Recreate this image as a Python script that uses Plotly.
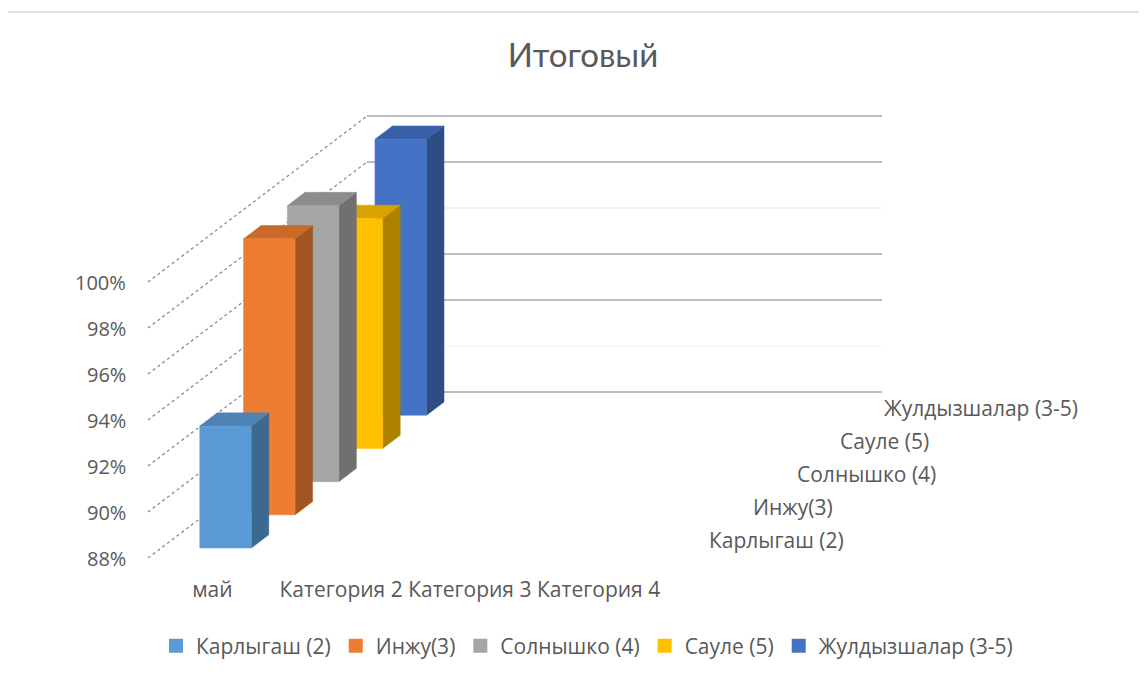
import plotly.graph_objects as go

# ---- data ----
categories = ["май", "Категория 2", "Категория 3", "Категория 4"]
series_names = ["Карлыгаш (2)", "Инжу(3)", "Солнышко (4)", "Сауле (5)", "Жулдызшалар (3-5)"]
karlygash = [93.3, None, None, None]
inzhu = [100, None, None, None]
solnyshko = [100, None, None, None]
saule = [98, None, None, None]
zhuldyzshalar = [100, None, None, None]
series_values = [karlygash, inzhu, solnyshko, saule, zhuldyzshalar]
colors = ["#5B9BD5", "#ED7D31", "#A5A5A5", "#FFC000", "#4472C4"]
y_ticks = [88, 90, 92, 94, 96, 98, 100]

# ---- geometry (oblique 3D projection in axis units) ----
OFF = 8  # page offset of the figure
W, H = 1147, 679
FLOOR_L = 148                          # page x of front-left floor corner
PL, PR, PT, PB = 20, 1140, 108, 558    # plot-area edges on the page
L = PL - OFF
T = PT - OFF
R = W - (PR - OFF)
B = H - (PB - OFF)
PX_CAT = 128.75
PX_PCT = 23.0
DX = 219 / PX_CAT      # depth shift along x (category units) for full depth
DY = 166 / PX_PCT      # depth shift along y (percent units) for full depth
YMIN = 88
plot_w = W - L - R
plot_h = H - T - B
x_left = -0.5 - (FLOOR_L - PL) / PX_CAT
xr = [x_left, x_left + plot_w / PX_CAT]
yr = [YMIN, YMIN + plot_h / PX_PCT]
nser = len(series_names)
slot = 1.0 / nser
bar_depth = slot / 2.5
half_w = 0.2


def proj(x, v, d):
    return x + d * DX, v + d * DY


def shade(hexc, f):
    h = hexc.lstrip("#")
    r, g, b = int(h[0:2], 16), int(h[2:4], 16), int(h[4:6], 16)
    return "rgb(%d,%d,%d)" % (r * f, g * f, b * f)


def page_to_paper_x(px):
    return (px - OFF - L) / plot_w


def page_to_paper_y(py):
    return (H - B - (py - OFF)) / plot_h


fig = go.Figure()

# walls: left wall (dotted diagonals) and back wall (horizontal)
faint = {96: "#eeeeee", 90: "#f6f6f6"}
for v in y_ticks:
    p0 = proj(-0.5, v, 0)
    p1 = proj(-0.5, v, 1)
    fig.add_trace(go.Scatter(x=[p0[0], p1[0]], y=[p0[1], p1[1]], mode="lines",
                             line=dict(color="#8c8c8c", width=1.3, dash="dot"),
                             showlegend=False, hoverinfo="skip"))
    q1 = proj(len(categories) - 0.5, v, 1)
    fig.add_trace(go.Scatter(x=[p1[0], q1[0]], y=[p1[1], q1[1]], mode="lines",
                             line=dict(color=faint.get(v, "#a6a6a6"), width=1.6),
                             showlegend=False, hoverinfo="skip"))

# bars, back to front
for i in reversed(range(nser)):
    d0 = slot * i + (slot - bar_depth) / 2
    d1 = d0 + bar_depth
    for ci, v in enumerate(series_values[i]):
        if v is None:
            continue
        x0, x1 = ci - half_w, ci + half_w
        faces = [
            ([(x1, YMIN, d0), (x1, YMIN, d1), (x1, v, d1), (x1, v, d0)], shade(colors[i], 0.68)),
            ([(x0, v, d0), (x1, v, d0), (x1, v, d1), (x0, v, d1)], shade(colors[i], 0.85)),
            ([(x0, YMIN, d0), (x1, YMIN, d0), (x1, v, d0), (x0, v, d0)], colors[i]),
        ]
        for pts, col in faces:
            xs, ys = zip(*[proj(*p) for p in pts])
            fig.add_trace(go.Scatter(x=list(xs) + [xs[0]], y=list(ys) + [ys[0]], mode="lines",
                                     fill="toself", fillcolor=col,
                                     line=dict(color=col, width=0.5),
                                     showlegend=False, hoverinfo="skip"))

# legend entries
for name, col in zip(series_names, colors):
    fig.add_trace(go.Scatter(x=[None], y=[None], mode="markers", name=name,
                             marker=dict(symbol="square", size=14, color=col)))

TXT = "#595959"
FS = 21
FS_NUM = 20
FONT = "'Open Sans', sans-serif"

# value axis labels (front edge of left wall)
for v in y_ticks:
    fig.add_annotation(x=-0.5, y=v, text="%d%%" % v, showarrow=False, xanchor="right",
                       yanchor="middle", xshift=-20, font=dict(size=FS_NUM, color=TXT))

# depth axis labels
for i, name in enumerate(series_names):
    px, py = proj(len(categories) - 0.5, YMIN, slot * i + slot / 2)
    fig.add_annotation(x=px, y=py, text=name, showarrow=False, xanchor="left",
                       yanchor="middle", xshift=22, yshift=1,
                       font=dict(size=FS, color=TXT))

fig.update_layout(
    width=W, height=H,
    margin=dict(l=L, r=R, t=T, b=B, autoexpand=False),
    paper_bgcolor="white", plot_bgcolor="white",
    font=dict(family=FONT, color=TXT, size=FS),
    title=dict(text="Итоговый", x=(583 - OFF) / W, xanchor="center",
               y=1 - (55 - OFF) / H, yanchor="middle",
               font=dict(family="Lato, 'Open Sans', sans-serif", size=33, color=TXT)),
    xaxis=dict(range=xr, tickvals=list(range(len(categories))), ticktext=categories,
               showgrid=False, zeroline=False, showline=False, ticks="",
               ticklabelstandoff=17, automargin=False, fixedrange=True,
               tickfont=dict(size=FS, color=TXT)),
    yaxis=dict(range=yr, showticklabels=False, showgrid=False, zeroline=False,
               showline=False, ticks="", automargin=False, fixedrange=True),
    legend=dict(orientation="h", x=page_to_paper_x(587), xanchor="center",
                y=page_to_paper_y(646), yanchor="middle",
                font=dict(size=FS, color=TXT), itemwidth=30,
                bgcolor="rgba(0,0,0,0)"),
    showlegend=True,
    shapes=[dict(type="rect", xref="paper", yref="paper",
                 x0=page_to_paper_x(7), x1=page_to_paper_x(1175),
                 y0=page_to_paper_y(700), y1=page_to_paper_y(12),
                 line=dict(color="#d9d9d9", width=1.5), fillcolor="rgba(0,0,0,0)")],
)

fig.write_html("out.html")
